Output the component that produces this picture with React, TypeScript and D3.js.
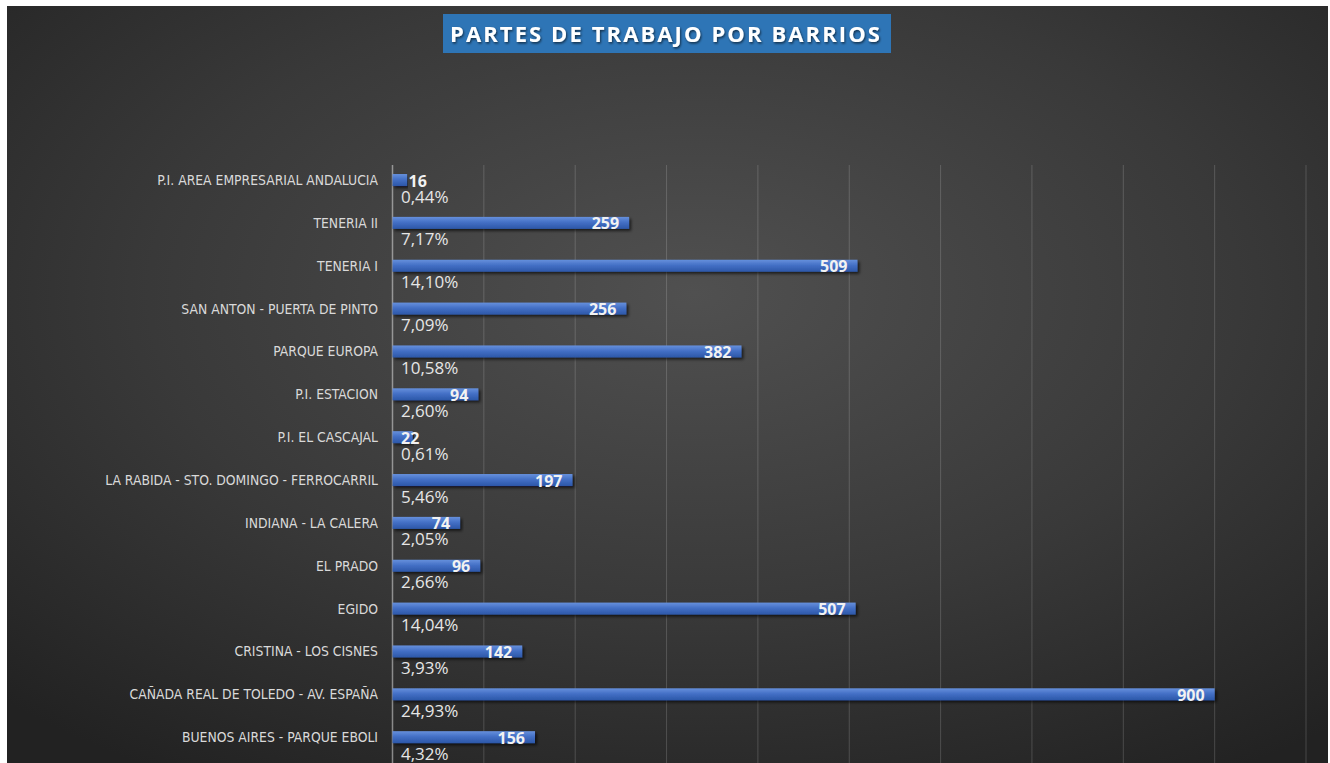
import React from "react";
import { scaleBand, scaleLinear, range, sum } from "d3";

// categories top to bottom, as they read in the chart
const barrios = [
  "P.I. AREA EMPRESARIAL ANDALUCIA",
  "TENERIA II",
  "TENERIA I",
  "SAN ANTON - PUERTA DE PINTO",
  "PARQUE EUROPA",
  "P.I. ESTACION",
  "P.I. EL CASCAJAL",
  "LA RABIDA - STO. DOMINGO - FERROCARRIL",
  "INDIANA - LA CALERA",
  "EL PRADO",
  "EGIDO",
  "CRISTINA - LOS CISNES",
  "CAÑADA REAL DE TOLEDO - AV. ESPAÑA",
  "BUENOS AIRES - PARQUE EBOLI",
];
const partes = [16, 259, 509, 256, 382, 94, 22, 197, 74, 96, 507, 142, 900, 156];
const gridTicks = range(0, 1001, 100);

const W = 1330;
const H = 763;
const total = sum(partes);
const pct = (v: number) => ((v / total) * 100).toFixed(2).replace(".", ",") + "%";

export default function App() {
  const x = scaleLinear().domain([0, 1000]).range([392.5, 1306]);
  const y = scaleBand().domain(barrios).range([158.6, 758.6]);
  const barH = 12;
  const labelFont = "'Liberation Sans Narrow', 'Arial Narrow', 'DejaVu Sans Condensed', sans-serif";

  return (
    <svg
      width={W}
      height={H}
      style={{ position: "absolute", left: 0, top: 0, display: "block" }}
    >
      <defs>
        <radialGradient id="bg" cx="52%" cy="38%" r="75%">
          <stop offset="0%" stopColor="#505050" />
          <stop offset="55%" stopColor="#393939" />
          <stop offset="100%" stopColor="#222222" />
        </radialGradient>
        <linearGradient id="bar" x1="0" y1="0" x2="0" y2="1">
          <stop offset="0%" stopColor="#6690dc" />
          <stop offset="45%" stopColor="#4470c6" />
          <stop offset="100%" stopColor="#2c57a8" />
        </linearGradient>
        <filter id="shadow" x="-5%" y="-50%" width="110%" height="250%">
          <feDropShadow dx="2" dy="2" stdDeviation="1.5" floodColor="#000" floodOpacity="0.65" />
        </filter>
        <filter id="txtShadow" x="-10%" y="-30%" width="120%" height="160%">
          <feDropShadow dx="1" dy="1.5" stdDeviation="1" floodColor="#000" floodOpacity="0.6" />
        </filter>
      </defs>

      <rect width={W} height={H} fill="#ffffff" />
      <rect x={7} y={6} width={W - 9} height={H - 6} fill="url(#bg)" />

      {/* title */}
      <rect x={443} y={14} width={448} height={39} fill="#2e75b6" />
      <text
        x={666}
        y={42}
        textAnchor="middle"
        fill="#ffffff"
        fontFamily="'Open Sans', sans-serif"
        fontWeight="bold"
        fontSize={22}
        letterSpacing={2.1}
        filter="url(#txtShadow)"
      >
        PARTES DE TRABAJO POR BARRIOS
      </text>

      {/* vertical gridlines */}
      {gridTicks.map((t) => (
        <line
          key={`g-${t}`}
          x1={x(t)}
          x2={x(t)}
          y1={165}
          y2={H}
          stroke="#ffffff"
          strokeOpacity={t === 0 ? 0.45 : 0.17}
          strokeWidth={t === 0 ? 1.5 : 1}
        />
      ))}

      {/* category labels */}
      {barrios.map((b) => (
        <text
          key={`c-${b}`}
          x={378}
          y={(y(b) as number) + y.bandwidth() / 2}
          dy="0.36em"
          textAnchor="end"
          fill="#d9d9d9"
          fontFamily={labelFont}
          fontSize={13.8}
        >
          {b}
        </text>
      ))}

      {/* bars */}
      {barrios.map((b, i) => {
        const cy = (y(b) as number) + y.bandwidth() / 2;
        return (
          <rect
            key={`b-${b}`}
            x={x(0)}
            y={cy - barH / 2}
            width={x(partes[i]) - x(0)}
            height={barH}
            fill="url(#bar)"
            filter="url(#shadow)"
          />
        );
      })}

      {/* value labels */}
      {barrios.map((b, i) => {
        const cy = (y(b) as number) + y.bandwidth() / 2;
        const end = x(partes[i]);
        const w = end - x(0);
        let lx = end - 10;
        let anchor: "end" | "start" = "end";
        if (w < 30) {
          anchor = "start";
          lx = w < 18 ? end + 1.5 : x(0) + 8.5;
        }
        return (
          <text
            key={`v-${b}`}
            x={lx}
            y={cy + 6.5}
            textAnchor={anchor}
            fill="#f2f2f2"
            fontFamily="'Open Sans', sans-serif"
            fontWeight="bold"
            fontSize={16}
          >
            {partes[i]}
          </text>
        );
      })}

      {/* percentage labels */}
      {barrios.map((b, i) => {
        const cy = (y(b) as number) + y.bandwidth() / 2;
        return (
          <text
            key={`p-${b}`}
            x={x(0) + 8.5}
            y={cy + 22.5}
            fill="#e6e6e6"
            fontFamily="'Open Sans', sans-serif"
            fontSize={17}
          >
            {pct(partes[i])}
          </text>
        );
      })}
    </svg>
  );
}
